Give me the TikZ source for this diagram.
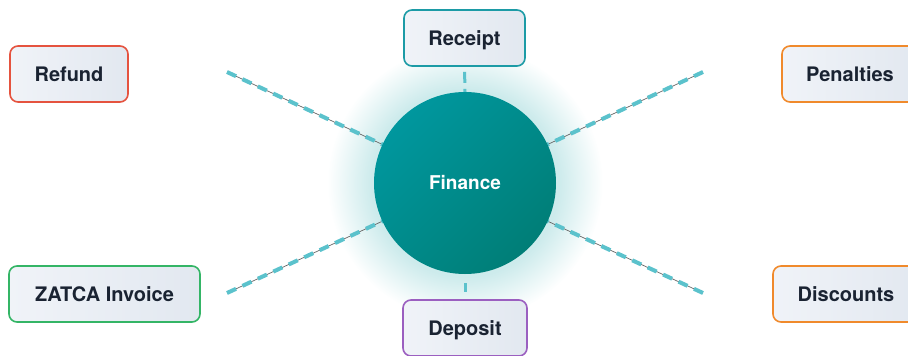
\documentclass[tikz,border=0pt]{standalone}
\usepackage{fontspec}
\setmainfont{TeX Gyre Heros}
\definecolor{txt}{HTML}{1A2332}
\definecolor{bxa}{HTML}{F0F3F8}
\definecolor{bxb}{HTML}{E2E8F0}
\definecolor{cred}{HTML}{E5533F}
\definecolor{cteal}{HTML}{1C9BA6}
\definecolor{corange}{HTML}{F08A2C}
\definecolor{cgreen}{HTML}{34B566}
\definecolor{cpurple}{HTML}{9B5FC0}
\definecolor{fina}{HTML}{00979E}
\definecolor{finb}{HTML}{007E77}
\definecolor{dashc}{HTML}{5BC2CC}
\definecolor{thinc}{HTML}{666666}
\definecolor{glowc}{HTML}{CDEBEC}
\pgfdeclareradialshading{glow}{\pgfpoint{0bp}{0bp}}{color(0bp)=(glowc); color(17bp)=(glowc); color(25bp)=(white); color(50bp)=(white)}
\begin{document}
\begin{tikzpicture}[x=1pt,y=-1pt,
  item/.style={rounded corners=8pt, line width=1.6pt, left color=bxa, right color=bxb,
    minimum height=56pt, inner sep=0pt, text=txt, font=\fontsize{20}{22}\selectfont\bfseries,
    text height=14.4pt, text depth=0pt, align=center},
  spoke/.style={thinc, line width=0.7pt},
  spokedash/.style={dashc, line width=4pt, dash pattern=on 10pt off 7pt},
  vdash/.style={dashc, line width=3pt}]
\useasboundingbox (0,0) rectangle (908,356);
% glow
\shade[shading=glow] (465,183) circle (138);
% free ends of spokes
\coordinate (c) at (465,183);
\coordinate (etl) at (227,72);
\coordinate (etr) at (703,72);
\coordinate (ebl) at (227,293);
\coordinate (ebr) at (703,293);
% boxes
\node[item, draw=cred, minimum width=118pt] (refund) at (69,74) {Refund};
\node[item, draw=cteal, minimum width=121pt] (receipt) at (464.5,38) {Receipt};
\node[item, draw=corange, minimum width=136pt] (pen) at (850,74) {Penalties};
\node[item, draw=cgreen, minimum width=191pt] (zatca) at (104.5,294) {ZATCA Invoice};
\node[item, draw=cpurple, minimum width=124pt] (dep) at (465,328) {Deposit};
\node[item, draw=corange, minimum width=146pt] (disc) at (846,294) {Discounts};
% spokes
\foreach \e in {etl,etr,ebl,ebr}{
  \draw[spoke] (c) -- (\e);
  \draw[spokedash] (\e) -- (c);
}
\draw[vdash, dash pattern=on 11pt off 6pt, dash phase=12pt] (receipt.south) -- (465,92);
\draw[vdash, dash pattern=on 9pt off 9pt, dash phase=9pt] (465,274) -- (dep.north);
% center
\node[circle, minimum size=182pt, inner sep=0pt, top color=fina, bottom color=finb, shading angle=45,
  text=white, font=\fontsize{19}{21}\selectfont\bfseries] (fin) at (c) {Finance};
\end{tikzpicture}
\end{document}
